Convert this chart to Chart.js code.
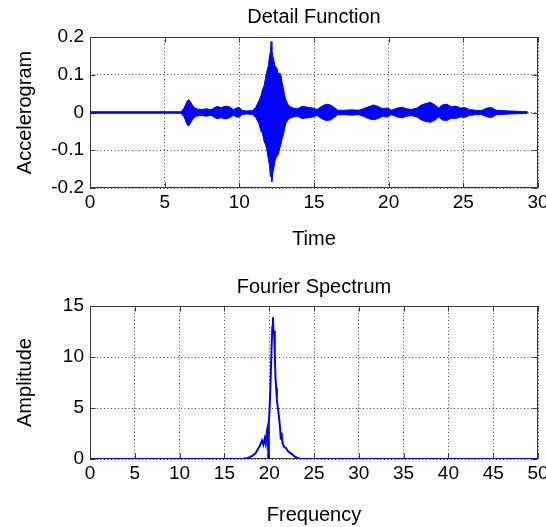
<!DOCTYPE html>
<html>
<head>
<meta charset="utf-8">
<script src="https://cdn.jsdelivr.net/npm/chart.js@4.4.1/dist/chart.umd.min.js"></script>
<style>
  html, body { margin: 0; padding: 0; background: #fff; }
  #wrap { position: relative; width: 546px; height: 527px; overflow: hidden; }
  canvas { position: absolute; left: 0; }
</style>
</head>
<body>
<div id="wrap">
  <canvas id="acc" width="546" height="260" style="top:0px"></canvas>
  <canvas id="spec" width="546" height="267" style="top:260px"></canvas>
</div>
<script>
// ---- Detail function (accelerogram), upper / lower envelope of the oscillation ----
const accTime = [0, 6.1, 6.3, 6.5, 6.6, 6.7, 6.85, 7.0, 7.2, 7.5, 7.8, 8.1, 8.3, 8.5, 8.8, 9.1, 9.4, 9.6, 9.8, 10.0,
  10.2, 10.5, 10.9, 11.1, 11.3, 11.45, 11.55, 11.65, 11.75, 11.85, 11.95, 12.02, 12.08, 12.13, 12.18, 12.24, 12.3,
  12.38, 12.46, 12.54, 12.62, 12.7, 12.78, 12.86, 12.94, 13.02, 13.1, 13.25, 13.4, 13.6, 13.9, 14.2, 14.6, 14.9,
  15.2, 15.5, 15.8, 16.1, 16.4, 16.6, 17.0, 17.5, 18.0, 18.3, 18.7, 19.0, 19.3, 19.6, 19.9, 20.2, 20.6, 20.9, 21.2,
  21.5, 21.9, 22.2, 22.5, 22.8, 23.1, 23.35, 23.6, 23.9, 24.2, 24.5, 24.8, 25.1, 25.4, 25.8, 26.2, 26.6, 26.9, 27.2,
  27.6, 28.1, 28.7, 29.3];
const accUpper = [0.002, 0.002, 0.012, 0.03, 0.034, 0.03, 0.02, 0.012, 0.009, 0.008, 0.01, 0.007, 0.012, 0.016, 0.013,
  0.017, 0.014, 0.007, 0.012, 0.013, 0.005, 0.004, 0.005, 0.014, 0.03, 0.045, 0.06, 0.07, 0.09, 0.11, 0.125, 0.15,
  0.16, 0.188, 0.165, 0.15, 0.14, 0.125, 0.12, 0.115, 0.1, 0.105, 0.1, 0.08, 0.065, 0.05, 0.035, 0.022, 0.015, 0.012,
  0.01, 0.016, 0.014, 0.012, 0.008, 0.016, 0.022, 0.02, 0.012, 0.006, 0.006, 0.007, 0.006, 0.01, 0.016, 0.02, 0.016,
  0.01, 0.012, 0.006, 0.012, 0.014, 0.01, 0.008, 0.012, 0.02, 0.024, 0.027, 0.02, 0.012, 0.02, 0.022, 0.015, 0.017,
  0.012, 0.013, 0.008, 0.006, 0.005, 0.012, 0.013, 0.006, 0.005, 0.004, 0.003, 0.002];
const accLower = [-0.002, -0.002, -0.012, -0.032, -0.036, -0.03, -0.02, -0.012, -0.009, -0.008, -0.01, -0.007, -0.012,
  -0.016, -0.014, -0.017, -0.013, -0.007, -0.012, -0.012, -0.005, -0.004, -0.005, -0.014, -0.028, -0.05, -0.055,
  -0.075, -0.085, -0.1, -0.125, -0.14, -0.17, -0.15, -0.183, -0.16, -0.15, -0.13, -0.12, -0.115, -0.11, -0.095,
  -0.085, -0.07, -0.06, -0.045, -0.03, -0.02, -0.015, -0.012, -0.01, -0.016, -0.014, -0.012, -0.008, -0.016, -0.021,
  -0.02, -0.012, -0.006, -0.006, -0.007, -0.006, -0.01, -0.017, -0.019, -0.016, -0.01, -0.012, -0.006, -0.012,
  -0.014, -0.01, -0.008, -0.012, -0.02, -0.024, -0.026, -0.02, -0.012, -0.02, -0.021, -0.015, -0.016, -0.012,
  -0.013, -0.008, -0.006, -0.005, -0.012, -0.013, -0.006, -0.005, -0.004, -0.003, -0.002];
const accXTicks = [0, 5, 10, 15, 20, 25, 30];
const accYTicks = [-0.2, -0.1, 0, 0.1, 0.2];

// ---- Fourier amplitude spectrum ----
const specFreq = [0, 17.0, 17.3, 17.6, 17.9, 18.2, 18.5, 18.7, 18.9, 19.05, 19.2, 19.35, 19.5, 19.62, 19.75, 19.85,
  19.9, 19.95, 20.05, 20.15, 20.25, 20.35, 20.42, 20.48, 20.55, 20.62, 20.7, 20.78, 20.86, 20.97, 21.08, 21.2, 21.3,
  21.38, 21.48, 21.65, 21.85, 22.1, 22.5, 22.9, 23.3, 23.6, 50];
const specAmp = [0, 0, 0.05, 0.1, 0.2, 0.35, 0.6, 0.9, 1.2, 1.5, 1.8, 1.4, 2.0, 1.5, 2.8, 3.2, 0, 3.5, 5.0, 7.5, 10.5,
  13.0, 13.9, 12.2, 12.6, 10.5, 8.0, 7.0, 5.8, 5.0, 4.2, 3.2, 1.9, 2.6, 1.6, 1.2, 1.1, 0.75, 0.5, 0.2, 0.05, 0, 0];
const specXTicks = [0, 5, 10, 15, 20, 25, 30, 35, 40, 45, 50];
const specYTicks = [0, 5, 10, 15];

const FONT = "'Liberation Sans', Arial, sans-serif";
const BLUE = '#0000ff';
Chart.defaults.color = '#000';
Chart.defaults.font.family = FONT;

// frame around the plot area with inward tick marks
const framePlugin = {
  id: 'frame',
  beforeDatasetsDraw(chart) {
    const { ctx, chartArea: a, scales } = chart;
    const L = Math.round(a.left) + 0.5, R = Math.round(a.right) - 0.5;
    const T = Math.round(a.top) + 0.5, B = Math.round(a.bottom) - 0.5;
    ctx.save();
    ctx.strokeStyle = '#3a3a3a';
    ctx.lineWidth = 1;
    ctx.setLineDash([]);
    ctx.strokeRect(L, T, R - L, B - T);
    ctx.beginPath();
    scales.x.ticks.forEach(t => {
      const p = Math.round(scales.x.getPixelForValue(t.value)) + 0.5;
      ctx.moveTo(p, B); ctx.lineTo(p, B - 5);
      ctx.moveTo(p, T); ctx.lineTo(p, T + 5);
    });
    scales.y.ticks.forEach(t => {
      const p = Math.round(scales.y.getPixelForValue(t.value)) + 0.5;
      ctx.moveTo(L, p); ctx.lineTo(L + 5, p);
      ctx.moveTo(R, p); ctx.lineTo(R - 5, p);
    });
    ctx.stroke();
    ctx.restore();
  }
};

function axisX(min, max, tickVals, title, height) {
  return {
    type: 'linear', min, max,
    afterBuildTicks: s => { s.ticks = tickVals.map(v => ({ value: v })); },
    afterFit: s => { s.height = height; s.paddingLeft = 0; s.paddingRight = 0; },
    grid: { color: 'rgba(0,0,0,0.75)', lineWidth: 1, drawTicks: false },
    border: { display: false, dash: [1, 2.5] },
    ticks: { padding: 3, maxRotation: 0, autoSkip: false, font: { size: 19 }, callback: v => String(v) },
    title: { display: true, text: title, font: { size: 20 }, padding: { top: 0, bottom: 0 } }
  };
}
function axisY(min, max, tickVals, title) {
  return {
    type: 'linear', min, max,
    afterBuildTicks: s => { s.ticks = tickVals.map(v => ({ value: v })); },
    afterFit: s => { s.width = 90; s.paddingTop = 0; s.paddingBottom = 0; },
    grid: { color: 'rgba(0,0,0,0.75)', lineWidth: 1, drawTicks: false },
    border: { display: false, dash: [1, 2.5] },
    ticks: { padding: 6, autoSkip: false, font: { size: 19 }, callback: v => String(v) },
    title: { display: true, text: title, font: { size: 20 }, padding: { top: 13, bottom: 0 } }
  };
}

new Chart(document.getElementById('acc'), {
  type: 'line',
  data: {
    datasets: [
      { data: accTime.map((t, i) => ({ x: t, y: accUpper[i] })), borderColor: BLUE, backgroundColor: BLUE,
        borderWidth: 1, pointRadius: 0, tension: 0, fill: '+1' },
      { data: accTime.map((t, i) => ({ x: t, y: accLower[i] })), borderColor: BLUE, backgroundColor: BLUE,
        borderWidth: 1, pointRadius: 0, tension: 0, fill: false }
    ]
  },
  options: {
    responsive: false, animation: false,
    layout: { padding: { top: 0, left: 0, right: 8, bottom: 8.6 } },
    plugins: {
      legend: { display: false }, tooltip: { enabled: false },
      title: { display: true, fullSize: false, text: 'Detail Function', font: { size: 20, weight: 'normal' },
        color: '#000', padding: { top: 5, bottom: 8 } }
    },
    scales: {
      x: axisX(0, 30, accXTicks, 'Time', 63.4),
      y: axisY(-0.2, 0.2, accYTicks, 'Accelerogram')
    }
  },
  plugins: [framePlugin]
});

new Chart(document.getElementById('spec'), {
  type: 'line',
  data: {
    datasets: [
      { data: specFreq.map((f, i) => ({ x: f, y: specAmp[i] })), borderColor: BLUE, borderWidth: 2,
        pointRadius: 0, tension: 0, fill: false }
    ]
  },
  options: {
    responsive: false, animation: false,
    layout: { padding: { top: 0, left: 0, right: 8, bottom: 0 } },
    plugins: {
      legend: { display: false }, tooltip: { enabled: false },
      title: { display: true, fullSize: false, text: 'Fourier Spectrum', font: { size: 20, weight: 'normal' },
        color: '#000', padding: { top: 15, bottom: 7 } }
    },
    scales: {
      x: axisX(0, 50, specXTicks, 'Frequency', 68),
      y: axisY(0, 15, specYTicks, 'Amplitude')
    }
  },
  plugins: [framePlugin]
});
</script>
</body>
</html>
